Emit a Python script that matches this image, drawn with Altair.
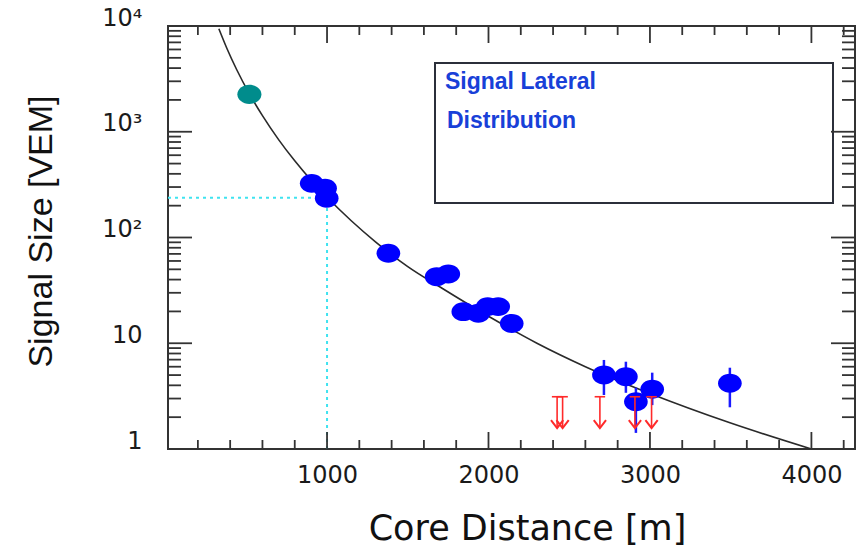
import altair as alt
import pandas as pd

# ---------------- data ----------------
blue_x = [905, 988, 998, 1380, 1679, 1751, 1844, 1937, 1995, 2060, 2144, 2715, 2851, 2913, 3014, 3495]
blue_y = [325, 292, 235, 71, 42.6, 45.2, 19.9, 19.2, 22.2, 22.2, 15.4, 5.0, 4.83, 2.8, 3.67, 4.18]

teal_x = [519]
teal_y = [2260]

err_x = [2144, 2715, 2851, 2913, 3014, 3495]
err_lo = [12.8, 3.24, 3.4, 1.42, 2.6, 2.48]
err_hi = [17.0, 6.95, 6.69, 3.8, 5.27, 5.87]

ul_x = [2425, 2459, 2690, 2907, 3010]
ul_top = [3.12, 3.12, 3.12, 3.12, 3.12]
ul_tip = [1.58, 1.58, 1.58, 1.58, 1.58]

curve_x = [330, 380, 440, 520, 600, 700, 800, 900, 1000, 1150, 1300, 1500, 1700,
           2000, 2300, 2600, 3000, 3500, 4000]
curve_y = [9420, 6130, 3880, 2270, 1420, 843, 531, 350, 240, 144, 91, 53, 34,
           18, 10, 6.0, 3.35, 1.76, 1.0]

ref_r = [1000]
ref_s = [238]
x_start = [15]
y_bottom = [1]

x_major = [1000, 2000, 3000, 4000]
x_minor = [200, 400, 600, 800, 1200, 1400, 1600, 1800, 2200, 2400, 2600, 2800,
           3200, 3400, 3600, 3800, 4200]
y_major = [1, 10, 100, 1000, 10000]
y_labels = ["1", "10", "10²", "10³", "10⁴"]
y_minor = [m * d for d in [1, 10, 100, 1000] for m in [2, 3, 4, 5, 6, 7, 8, 9]]

legend_lines = ["Signal Lateral", "Distribution"]

# ---------------- layout ----------------
W, H = 687, 423
PAD = {"left": 168, "top": 26, "right": 2, "bottom": 98}

xscale = alt.Scale(domain=[15, 4270], nice=False, zero=False)
yscale = alt.Scale(type="log", domain=[1, 10000], nice=False)

label_expr = (
    "datum.value < 3 ? '" + y_labels[0] + "' : datum.value < 30 ? '" + y_labels[1]
    + "' : datum.value < 300 ? '" + y_labels[2] + "' : datum.value < 3000 ? '" + y_labels[3]
    + "' : '" + y_labels[4] + "'"
)

xaxis = alt.Axis(values=x_major, format="d", ticks=False, domain=False, grid=False,
                 labelFont="DejaVu Sans", labelFontSize=24, labelColor="#1a1a1a",
                 labelPadding=14, labelFlush=False,
                 title="Core Distance [m]", titleFont="DejaVu Sans", titleFontSize=35,
                 titleFontWeight="normal", titleColor="#111111",
                 titleX=359, titleY=79, titleAlign="center", titleBaseline="middle")
yaxis = alt.Axis(values=y_major, ticks=False, domain=False, grid=False,
                 labelExpr=label_expr,
                 labelFont="DejaVu Sans", labelFontSize=24, labelColor="#1a1a1a",
                 labelPadding=26, labelOffset=-8, labelFlush=False,
                 title="Signal Size [VEM]", titleFont="Liberation Sans",
                 titleFontSize=34, titleFontWeight="normal", titleColor="#111111",
                 titleAngle=270, titleX=-127, titleY=205, titleAlign="center",
                 titleBaseline="middle")


def X(f):
    return alt.X(f, type="quantitative", scale=xscale, axis=xaxis)


def Y(f):
    return alt.Y(f, type="quantitative", scale=yscale, axis=yaxis)


ellipse = "M-1,0A1,0.8,0,1,1,1,0A1,0.8,0,1,1,-1,0Z"
vhead = "M-1,-1.3L0,0L1,-1.3"
hcap = "M-1,0L1,0"

ref_df = pd.DataFrame({"x0": x_start, "r": ref_r, "s": ref_s, "yb": y_bottom})
curve_df = pd.DataFrame({"x": curve_x, "y": curve_y})
blue_df = pd.DataFrame({"x": blue_x, "y": blue_y})
teal_df = pd.DataFrame({"x": teal_x, "y": teal_y})
err_df = pd.DataFrame({"x": err_x, "lo": err_lo, "hi": err_hi})
ul_df = pd.DataFrame({"x": ul_x, "top": ul_top, "tip": ul_tip})
xmaj_df = pd.DataFrame({"v": x_major})
xmin_df = pd.DataFrame({"v": x_minor})
ymaj_df = pd.DataFrame({"v": y_major})
ymin_df = pd.DataFrame({"v": y_minor})
leg_df = pd.DataFrame({"t": legend_lines, "row": [0, 1]})

cyan = "#3fe3f0"
hline = alt.Chart(ref_df).mark_rule(color=cyan, strokeWidth=2, strokeDash=[3, 4]).encode(
    x=X("x0"), x2="r", y=Y("s"))
vline = alt.Chart(ref_df).mark_rule(color=cyan, strokeWidth=2, strokeDash=[3, 4]).encode(
    x=X("r"), y=Y("yb"), y2="s")

curve = alt.Chart(curve_df).mark_line(color="#2a2a2a", strokeWidth=1.6, interpolate="monotone",
                                      clip=True).encode(x=X("x"), y=Y("y"))

errs = alt.Chart(err_df).mark_rule(color="#1a1aff", strokeWidth=2.5).encode(
    x=X("x"), y=Y("lo"), y2="hi")

blue = alt.Chart(blue_df).mark_point(shape=ellipse, filled=True, size=560, opacity=1,
                                     color="#0000ff").encode(x=X("x"), y=Y("y"))
teal = alt.Chart(teal_df).mark_point(shape=ellipse, filled=True, size=580, opacity=1,
                                     color="#008c8c").encode(x=X("x"), y=Y("y"))

red = "#ff2a2a"
ul_stem = alt.Chart(ul_df).mark_rule(color=red, strokeWidth=1.6).encode(
    x=X("x"), y=Y("top"), y2="tip")
ul_cap = alt.Chart(ul_df).mark_point(shape=hcap, filled=False, size=110, color=red,
                                     strokeWidth=1.6, opacity=1).encode(x=X("x"), y=Y("top"))
ul_head = alt.Chart(ul_df).mark_point(shape=vhead, filled=False, size=150, color=red,
                                      strokeWidth=2, opacity=1).encode(x=X("x"), y=Y("tip"))

tick_col = "#333333"
xt_bmaj = alt.Chart(xmaj_df).mark_rule(color=tick_col, strokeWidth=1.8).encode(
    x=X("v"), y=alt.value(H), y2=alt.value(H - 17))
xt_bmin = alt.Chart(xmin_df).mark_rule(color=tick_col, strokeWidth=1.8).encode(
    x=X("v"), y=alt.value(H), y2=alt.value(H - 9))
xt_tmaj = alt.Chart(xmaj_df).mark_rule(color=tick_col, strokeWidth=1.8).encode(
    x=X("v"), y=alt.value(0), y2=alt.value(17))
xt_tmin = alt.Chart(xmin_df).mark_rule(color=tick_col, strokeWidth=1.8).encode(
    x=X("v"), y=alt.value(0), y2=alt.value(9))
yt_lmaj = alt.Chart(ymaj_df).mark_rule(color=tick_col, strokeWidth=1.8).encode(
    y=Y("v"), x=alt.value(0), x2=alt.value(24))
yt_lmin = alt.Chart(ymin_df).mark_rule(color=tick_col, strokeWidth=1.8).encode(
    y=Y("v"), x=alt.value(0), x2=alt.value(13))
yt_rmaj = alt.Chart(ymaj_df).mark_rule(color=tick_col, strokeWidth=1.8).encode(
    y=Y("v"), x=alt.value(W), x2=alt.value(W - 24))
yt_rmin = alt.Chart(ymin_df).mark_rule(color=tick_col, strokeWidth=1.8).encode(
    y=Y("v"), x=alt.value(W), x2=alt.value(W - 13))

box = alt.Chart(leg_df.head(1)).mark_rect(fill="white", stroke="#2b2f3a", strokeWidth=2).encode(
    x=alt.value(267), x2=alt.value(665), y=alt.value(37), y2=alt.value(177))
leg1 = alt.Chart(leg_df.head(1)).mark_text(align="left", baseline="middle", font="Liberation Sans",
                                           fontSize=23, fontWeight="bold", color="#1840d8").encode(
    x=alt.value(277), y=alt.value(56), text="t:N")
leg2 = alt.Chart(leg_df.tail(1)).mark_text(align="left", baseline="middle", font="Liberation Sans",
                                           fontSize=23, fontWeight="bold", color="#1840d8").encode(
    x=alt.value(279), y=alt.value(95), text="t:N")

chart = alt.layer(
    hline, vline, curve, errs, teal, blue, ul_stem, ul_cap, ul_head,
    box, leg1, leg2,
    xt_bmaj, xt_bmin, xt_tmaj, xt_tmin, yt_lmaj, yt_lmin, yt_rmaj, yt_rmin,
).properties(
    width=W, height=H, padding=PAD,
    autosize=alt.AutoSizeParams(type="none"),
    background="white",
).configure_view(stroke="#333333", strokeWidth=2)

chart.save("out.html", embed_options={"renderer": "svg", "actions": False})
